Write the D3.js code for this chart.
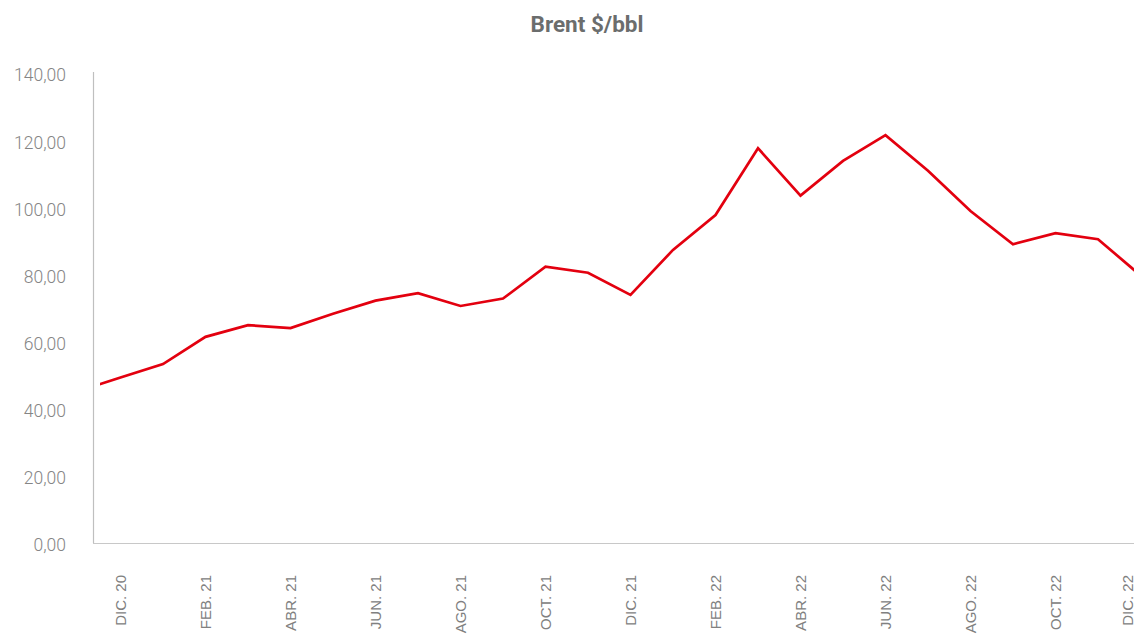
<!DOCTYPE html>
<html>
<head>
<meta charset="utf-8">
<script src="https://cdn.jsdelivr.net/npm/d3@7"></script>
<style>
  html, body { margin: 0; padding: 0; background: #ffffff; }
  svg { display: block; }
</style>
</head>
<body>
<svg id="chart" width="1134" height="634"></svg>
<script>
// Monthly Brent average, $/bbl
const months = [
  "NOV. 20", "DIC. 20", "ENE. 21", "FEB. 21", "MAR. 21", "ABR. 21", "MAY. 21",
  "JUN. 21", "JUL. 21", "AGO. 21", "SEP. 21", "OCT. 21", "NOV. 21", "DIC. 21",
  "ENE. 22", "FEB. 22", "MAR. 22", "ABR. 22", "MAY. 22", "JUN. 22", "JUL. 22",
  "AGO. 22", "SEP. 22", "OCT. 22", "NOV. 22", "DIC. 22"
];
const brent = [
  45.2, 49.3, 53.3, 61.4, 64.9, 64.0, 68.3,
  72.2, 74.4, 70.6, 72.8, 82.3, 80.5, 73.9,
  87.3, 97.7, 117.6, 103.5, 113.8, 121.5, 110.9,
  98.9, 89.0, 92.3, 90.5, 79.7
];
// Labelled months on the category axis
const tickMonths = [
  "DIC. 20", "FEB. 21", "ABR. 21", "JUN. 21", "AGO. 21", "OCT. 21",
  "DIC. 21", "FEB. 22", "ABR. 22", "JUN. 22", "AGO. 22", "OCT. 22", "DIC. 22"
];
const yTicks = [0, 20, 40, 60, 80, 100, 120, 140];

const svg = d3.select("#chart");
const W = 1134, H = 634;
const axisX = 93, plotLeft = 100, plotTop = 73, plotBottom = 543;

const esLocale = d3.formatLocale({ decimal: ",", thousands: ".", grouping: [3], currency: ["", " $"] });
const fmt = esLocale.format(".2f");

const x = d3.scalePoint().domain(months).range([78, 1140.5]);
const y = d3.scaleLinear().domain([0, 140]).range([plotBottom, plotTop]);

// Title
svg.append("text")
  .attr("x", 587).attr("y", 32)
  .attr("text-anchor", "middle")
  .attr("font-family", "Roboto, 'Noto Sans', sans-serif")
  .attr("font-weight", 700)
  .attr("font-size", 22.5)
  .attr("fill", "#6b6d6d")
  .text("Brent $/bbl");

// Value axis
const yAxis = d3.axisLeft(y).tickValues(yTicks).tickFormat(fmt).tickSize(0).tickPadding(27);
const gy = svg.append("g").attr("transform", `translate(${axisX},0)`).call(yAxis);
gy.select(".domain").attr("stroke", "#bfbfbf").attr("stroke-width", 1.2)
  .attr("d", `M0.5,${plotTop - 1}V${plotBottom}`);
gy.selectAll("text")
  .attr("font-family", "Roboto, 'Liberation Sans', sans-serif")
  .attr("font-weight", 300)
  .attr("font-size", 17.5)
  .attr("fill", "#858585")
  .attr("dy", "0.45em");

// Category axis baseline
svg.append("line")
  .attr("x1", axisX).attr("x2", W)
  .attr("y1", plotBottom + 0.5).attr("y2", plotBottom + 0.5)
  .attr("stroke", "#c8c8c8").attr("stroke-width", 1.2);

// Category labels, rotated; the last one is kept partly inside the frame
const gx = svg.append("g").attr("class", "x-labels");
gx.selectAll("text")
  .data(tickMonths)
  .join("text")
  .attr("transform", d => `translate(${Math.min(x(d), W - 7)},${plotBottom + 32}) rotate(-90)`)
  .attr("font-family", "'Liberation Sans', Arial, sans-serif")
  .attr("font-size", 15)
  .attr("fill", "#808080")
  .attr("text-anchor", "end")
  .attr("dominant-baseline", "central")
  .text(d => d);

// Plot area clip
svg.append("defs").append("clipPath").attr("id", "plotClip")
  .append("rect")
  .attr("x", plotLeft).attr("y", 0)
  .attr("width", W - plotLeft).attr("height", plotBottom);

const line = d3.line()
  .x((d, i) => x(months[i]))
  .y(d => y(d));

svg.append("path")
  .datum(brent)
  .attr("clip-path", "url(#plotClip)")
  .attr("fill", "none")
  .attr("stroke", "#e3000f")
  .attr("stroke-width", 2.7)
  .attr("stroke-linejoin", "miter")
  .attr("d", line);
</script>
</body>
</html>
